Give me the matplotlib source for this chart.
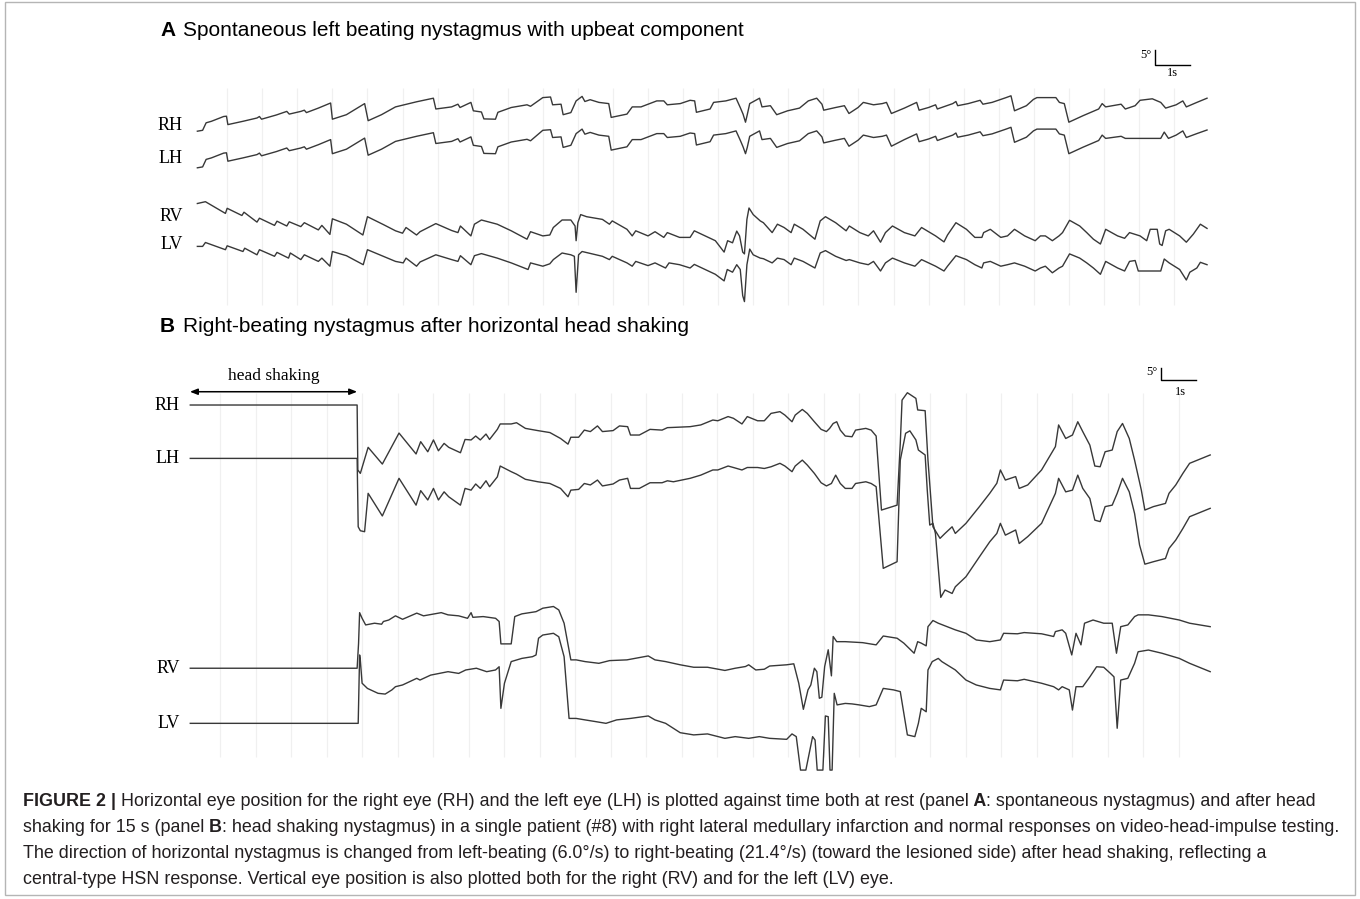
import matplotlib
matplotlib.use('Agg')
import matplotlib.pyplot as plt
from matplotlib import font_manager
from matplotlib.patches import Rectangle

# ---- eye position traces: (time in s, position in deg) ----
# panel A, spontaneous nystagmus
rh_a = [(0.15, -1.9), (0.30, -1.6), (0.40, 0.9), (0.55, 1.4), (0.90, 3.0), (0.98, 3.1), (1.02, 0.3),
        (1.45, 1.4), (1.85, 2.5), (1.92, 3.0), (1.98, 2.1), (2.40, 3.5), (2.70, 4.7), (2.77, 3.8),
        (3.10, 4.7), (3.20, 5.1), (3.26, 4.3), (3.60, 5.8), (3.95, 7.5), (4.00, 2.1), (4.40, 3.6),
        (4.92, 7.3), (5.02, 1.6), (5.40, 3.6), (5.80, 6.2), (6.40, 7.9), (6.88, 9.1), (6.95, 5.5),
        (7.40, 6.2), (7.58, 7.1), (7.64, 6.0), (7.95, 7.7), (8.02, 4.9), (8.25, 4.5), (8.32, 2.2),
        (8.65, 2.1), (8.72, 4.4), (9.10, 6.0), (9.55, 6.9), (9.65, 6.4), (10.00, 9.3), (10.22, 9.5),
        (10.28, 6.9), (10.52, 7.1), (10.58, 3.6), (10.80, 4.3), (10.95, 8.2), (11.12, 9.7), (11.20, 8.0),
        (11.35, 8.6), (11.60, 7.7), (11.88, 7.3), (11.95, 2.7), (12.40, 3.8), (12.55, 6.2), (12.80, 6.2),
        (13.25, 8.2), (13.45, 8.2), (13.55, 6.9), (13.92, 7.3), (14.20, 8.4), (14.33, 8.2), (14.38, 4.4),
        (14.77, 5.5), (14.87, 7.7), (15.22, 8.2), (15.51, 9.1), (15.63, 6.0), (15.71, 3.8), (15.78, 1.1),
        (15.83, 3.6), (15.90, 7.3), (16.18, 9.1), (16.25, 6.2), (16.49, 6.6), (16.67, 3.6), (16.98, 4.9),
        (17.32, 5.8), (17.57, 8.2), (17.81, 9.1), (17.96, 7.1), (18.01, 5.1), (18.35, 6.0), (18.60, 6.6),
        (18.73, 4.0), (18.99, 6.0), (19.14, 7.7), (19.43, 6.9), (19.68, 7.3), (19.80, 7.7), (19.94, 4.0),
        (20.31, 5.8), (20.66, 7.7), (20.73, 5.1), (21.00, 6.0), (21.20, 6.9), (21.25, 5.5), (21.69, 7.3),
        (21.78, 8.0), (21.83, 6.6), (22.13, 7.3), (22.47, 8.4), (22.55, 7.1), (22.81, 7.7), (23.21, 9.3),
        (23.35, 9.9), (23.45, 4.9), (23.79, 6.6), (23.99, 8.7), (24.09, 9.3), (24.63, 9.3), (24.73, 7.7),
        (24.87, 7.3), (25.00, 1.1), (25.41, 3.3), (25.85, 5.5), (25.95, 7.3), (26.05, 6.2), (26.49, 7.1),
        (26.61, 5.5), (26.89, 6.6), (27.03, 8.4), (27.38, 8.9), (27.62, 7.7), (27.76, 5.8), (28.06, 6.9),
        (28.25, 8.2), (28.35, 6.2), (28.65, 7.7), (28.94, 9.1)]

lh_a = [(0.15, -3.2), (0.30, -2.9), (0.40, -0.4), (0.55, 0.1), (0.90, 1.7), (0.98, 1.8), (1.02, -1.0),
        (1.45, 0.1), (1.85, 1.2), (1.92, 1.7), (1.98, 0.8), (2.40, 2.2), (2.70, 3.4), (2.77, 2.5),
        (3.10, 3.4), (3.20, 3.8), (3.26, 3.0), (3.60, 4.5), (3.95, 6.2), (4.00, 1.5), (4.40, 3.0),
        (4.92, 6.7), (5.02, 1.0), (5.40, 3.0), (5.80, 5.6), (6.40, 7.3), (6.88, 8.5), (6.95, 4.9),
        (7.40, 5.6), (7.58, 6.5), (7.64, 5.4), (7.95, 7.1), (8.02, 4.3), (8.25, 3.9), (8.32, 1.6),
        (8.65, 1.5), (8.72, 3.8), (9.10, 5.4), (9.55, 6.3), (9.65, 5.8), (10.00, 9.3), (10.22, 9.5),
        (10.28, 6.9), (10.52, 7.1), (10.58, 3.6), (10.80, 4.3), (10.95, 8.2), (11.12, 9.7), (11.20, 8.0),
        (11.35, 8.6), (11.60, 7.7), (11.88, 7.3), (11.95, 2.7), (12.40, 3.8), (12.55, 6.2), (12.80, 6.2),
        (13.25, 8.2), (13.45, 8.2), (13.55, 6.9), (13.92, 7.3), (14.20, 8.4), (14.33, 8.2), (14.38, 4.4),
        (14.77, 5.5), (14.87, 7.7), (15.22, 8.2), (15.51, 9.1), (15.63, 6.0), (15.71, 3.8), (15.78, 1.5),
        (15.83, 3.6), (15.90, 7.3), (16.18, 9.1), (16.25, 6.2), (16.49, 6.6), (16.67, 3.6), (16.98, 4.9),
        (17.32, 5.8), (17.57, 8.2), (17.81, 9.1), (17.96, 7.1), (18.01, 5.1), (18.35, 6.0), (18.60, 6.6),
        (18.73, 4.0), (18.99, 6.0), (19.14, 7.7), (19.43, 6.9), (19.68, 7.3), (19.80, 7.7), (19.94, 4.0),
        (20.31, 6.2), (20.66, 8.1), (20.73, 5.5), (21.00, 6.4), (21.20, 7.3), (21.25, 5.9), (21.69, 7.7),
        (21.78, 8.4), (21.83, 7.0), (22.13, 7.7), (22.47, 8.8), (22.55, 7.5), (22.81, 8.1), (23.21, 9.7),
        (23.35, 10.3), (23.45, 5.3), (23.79, 7.0), (23.99, 9.1), (24.09, 9.7), (24.63, 9.7), (24.73, 8.1),
        (24.87, 7.7), (25.00, 1.5), (25.41, 3.7), (25.85, 5.9), (25.95, 7.7), (26.05, 6.6), (26.49, 7.3),
        (26.61, 6.6), (27.62, 6.6), (27.72, 8.7), (27.84, 6.6), (28.06, 7.7), (28.25, 9.1), (28.35, 6.9),
        (28.65, 8.2), (28.94, 9.4)]

rv_a = [(0.15, 4.2), (0.38, 4.8), (0.95, 0.9), (1.00, 2.6), (1.42, 0.2), (1.48, 1.3), (1.85, -2.0),
        (1.92, -0.7), (2.35, -3.1), (2.42, -1.7), (2.70, -3.3), (2.77, -1.9), (3.10, -3.5), (3.20, -2.2),
        (3.60, -4.6), (3.70, -3.1), (3.93, -6.1), (4.00, -0.9), (4.40, -2.7), (4.87, -6.3), (5.00, -0.2),
        (5.45, -2.8), (5.80, -4.9), (6.00, -5.7), (6.10, -3.8), (6.40, -6.3), (6.50, -5.2), (6.95, -2.5),
        (7.40, -4.8), (7.58, -5.5), (7.65, -3.3), (7.95, -6.6), (8.05, -2.7), (8.25, -1.3), (8.70, -2.7),
        (9.10, -4.9), (9.55, -7.7), (9.65, -5.2), (10.00, -6.6), (10.20, -6.3), (10.30, -3.8),
        (10.55, -1.3), (10.80, -1.3), (10.92, -3.3), (10.95, -8.2), (11.00, -2.2), (11.08, 0.5),
        (11.25, -0.2), (11.70, -1.1), (11.90, -2.7), (11.98, -1.6), (12.40, -4.4), (12.55, -6.6),
        (12.65, -4.9), (13.00, -6.6), (13.20, -5.2), (13.45, -7.1), (13.55, -5.5), (13.90, -7.1),
        (14.20, -7.1), (14.32, -4.9), (14.92, -8.2), (15.17, -12.0), (15.27, -8.2), (15.41, -8.9),
        (15.53, -5.0), (15.61, -6.6), (15.70, -12.0), (15.75, -12.6), (15.82, -1.1), (15.88, 2.7),
        (16.00, 0.5), (16.20, -1.6), (16.29, -2.2), (16.54, -5.5), (16.69, -2.7), (16.88, -3.8),
        (17.08, -5.5), (17.17, -2.7), (17.42, -4.4), (17.76, -7.7), (17.91, -1.6), (18.06, -0.2),
        (18.35, -2.2), (18.65, -4.9), (18.74, -3.3), (19.04, -5.5), (19.28, -6.6), (19.43, -4.9),
        (19.63, -8.7), (19.77, -5.5), (19.97, -3.3), (20.31, -5.5), (20.61, -6.6), (20.80, -3.8),
        (21.20, -6.6), (21.44, -8.6), (21.54, -6.3), (21.78, -2.2), (22.08, -4.4), (22.32, -7.1),
        (22.52, -7.1), (22.57, -5.5), (22.76, -4.4), (23.06, -7.1), (23.25, -6.6), (23.45, -4.4),
        (23.74, -6.6), (24.04, -8.2), (24.19, -6.6), (24.33, -6.6), (24.53, -8.2), (24.72, -6.6),
        (24.82, -5.5), (25.02, -1.4), (25.31, -3.3), (25.51, -5.5), (25.70, -7.7), (25.90, -9.3),
        (26.05, -4.4), (26.39, -6.6), (26.59, -7.4), (26.73, -5.5), (27.03, -6.6), (27.22, -8.2),
        (27.32, -4.4), (27.52, -4.4), (27.59, -9.3), (27.66, -9.8), (27.76, -4.9), (27.86, -4.4),
        (28.16, -6.6), (28.35, -8.7), (28.55, -6.0), (28.75, -2.7), (28.94, -4.1)]

lv_a = [(0.15, -0.5), (0.30, -0.5), (0.38, 0.8), (0.95, -1.6), (1.00, -0.3), (1.45, -2.2), (1.50, -1.1),
        (1.85, -3.3), (1.92, -1.6), (2.35, -3.8), (2.42, -2.5), (2.75, -4.4), (2.80, -2.7), (3.10, -4.9),
        (3.20, -3.3), (3.60, -5.5), (3.70, -4.4), (3.93, -7.1), (4.00, -2.2), (4.40, -3.6), (4.88, -6.6),
        (5.00, -1.6), (5.45, -3.8), (5.80, -5.5), (6.02, -6.0), (6.10, -4.4), (6.40, -7.1), (6.50, -5.7),
        (6.95, -3.3), (7.40, -4.9), (7.58, -5.5), (7.65, -3.6), (7.95, -6.6), (8.05, -3.6), (8.25, -2.9),
        (8.70, -4.4), (9.10, -6.0), (9.58, -8.2), (9.65, -6.0), (10.00, -7.1), (10.20, -6.3),
        (10.30, -4.9), (10.55, -2.7), (10.80, -3.3), (10.90, -3.8), (10.95, -15.8), (11.02, -3.3),
        (11.12, -2.2), (11.30, -2.7), (11.70, -3.8), (11.90, -4.9), (11.98, -3.8), (12.40, -6.0),
        (12.55, -7.1), (12.65, -5.5), (13.00, -6.9), (13.20, -6.0), (13.50, -7.7), (13.60, -6.0),
        (13.90, -6.6), (14.20, -7.7), (14.32, -6.5), (14.92, -9.8), (15.17, -12.0), (15.26, -8.2),
        (15.41, -9.1), (15.53, -6.6), (15.63, -8.2), (15.70, -16.9), (15.75, -18.9), (15.82, -6.6),
        (15.90, -1.4), (16.00, -3.3), (16.20, -4.4), (16.29, -4.6), (16.54, -6.0), (16.69, -4.4),
        (16.88, -4.9), (17.08, -6.6), (17.17, -4.4), (17.42, -5.5), (17.76, -7.7), (17.91, -2.7),
        (18.06, -1.9), (18.35, -3.8), (18.65, -5.2), (18.74, -4.9), (19.04, -6.0), (19.28, -6.6),
        (19.43, -5.5), (19.63, -8.7), (19.77, -6.0), (19.97, -4.4), (20.31, -6.0), (20.61, -7.1),
        (20.80, -4.9), (21.20, -7.1), (21.44, -8.7), (21.54, -7.1), (21.78, -3.6), (22.08, -4.9),
        (22.32, -6.6), (22.52, -7.7), (22.57, -6.0), (22.76, -5.5), (23.06, -7.1), (23.25, -6.6),
        (23.45, -6.0), (23.74, -7.1), (24.04, -8.7), (24.19, -7.7), (24.33, -7.1), (24.53, -9.3),
        (24.72, -7.7), (24.82, -7.1), (25.02, -3.0), (25.31, -4.4), (25.51, -6.0), (25.70, -7.7),
        (25.90, -9.8), (26.05, -5.5), (26.39, -7.7), (26.59, -8.7), (26.73, -5.5), (26.89, -5.2),
        (26.98, -8.7), (27.62, -8.7), (27.72, -4.7), (27.86, -6.0), (28.16, -8.2), (28.35, -11.7),
        (28.45, -9.1), (28.65, -7.7), (28.75, -5.8), (28.94, -6.6)]

# panel B, after horizontal head shaking
rh_b = [(0.16, 0.0), (4.86, 0.0), (4.88, -26.4), (4.95, -27.8), (5.17, -17.2), (5.57, -24.0), (6.04, -11.4),
        (6.52, -19.9), (6.65, -14.9), (6.85, -19.0), (7.01, -14.2), (7.15, -18.6), (7.31, -15.6),
        (7.44, -17.2), (7.77, -19.4), (7.90, -14.0), (8.07, -14.2), (8.20, -12.6), (8.33, -14.2),
        (8.49, -11.8), (8.59, -14.0), (8.81, -9.9), (8.89, -7.7), (9.20, -7.7), (9.35, -7.2), (9.60, -9.5),
        (9.95, -10.4), (10.29, -11.2), (10.59, -13.6), (10.80, -15.9), (10.88, -13.1), (11.10, -13.1),
        (11.26, -10.2), (11.43, -10.8), (11.63, -8.5), (11.77, -10.8), (12.07, -10.4), (12.25, -8.5),
        (12.48, -8.8), (12.56, -12.2), (12.81, -12.2), (13.11, -9.9), (13.45, -10.2), (13.60, -9.2),
        (13.77, -9.1), (14.24, -8.8), (14.54, -8.1), (14.88, -6.1), (15.02, -6.4), (15.31, -4.7),
        (15.46, -5.4), (15.70, -7.7), (15.85, -4.7), (16.14, -6.4), (16.33, -6.4), (16.52, -3.4),
        (16.77, -2.7), (16.91, -4.1), (17.11, -6.8), (17.20, -4.1), (17.40, -1.8), (17.54, -3.4),
        (17.74, -6.8), (17.93, -9.9), (18.08, -10.8), (18.17, -9.5), (18.27, -7.5), (18.37, -6.8),
        (18.47, -10.2), (18.61, -12.6), (18.80, -12.9), (18.90, -10.2), (19.19, -9.5), (19.34, -10.2),
        (19.48, -12.6), (19.63, -42.7), (20.07, -40.7), (20.16, -15.6), (20.21, 2.0), (20.36, 5.0),
        (20.60, 2.7), (20.65, -2.0), (20.86, -2.3), (20.94, -22.4), (21.08, -49.5), (21.28, -54.2),
        (21.42, -52.2), (21.62, -49.5), (21.71, -52.2), (22.01, -48.1), (22.39, -41.3), (22.68, -35.9),
        (22.88, -31.8), (22.98, -26.4), (23.12, -30.5), (23.41, -29.1), (23.51, -33.9), (23.75, -32.5),
        (24.14, -26.4), (24.53, -16.9), (24.62, -8.1), (24.82, -13.6), (25.01, -12.2), (25.16, -6.8),
        (25.30, -10.8), (25.50, -16.3), (25.64, -24.8), (25.79, -25.1), (25.93, -19.0), (26.13, -18.3),
        (26.27, -10.8), (26.42, -7.5), (26.61, -13.6), (26.76, -22.4), (26.95, -34.6), (27.05, -42.7),
        (27.29, -41.3), (27.63, -40.0), (27.73, -35.9), (27.92, -32.5), (28.12, -27.8), (28.31, -23.7),
        (28.89, -20.3)]

lh_b = [(0.16, 0.0), (4.86, 0.0), (4.89, -27.8), (4.95, -29.4), (5.07, -29.8), (5.17, -14.2), (5.57, -23.4),
        (6.04, -8.1), (6.52, -19.0), (6.65, -13.1), (6.85, -16.9), (7.01, -12.2), (7.15, -16.9),
        (7.31, -13.6), (7.44, -15.6), (7.77, -19.0), (7.90, -12.2), (8.07, -12.9), (8.20, -10.4),
        (8.33, -12.2), (8.49, -9.1), (8.59, -11.5), (8.81, -7.5), (8.89, -3.1), (9.20, -5.4), (9.35, -6.4),
        (9.60, -8.5), (9.95, -9.5), (10.29, -10.2), (10.59, -12.2), (10.80, -15.6), (10.88, -12.9),
        (11.10, -12.6), (11.26, -10.2), (11.43, -10.8), (11.63, -8.8), (11.77, -11.2), (12.07, -10.4),
        (12.25, -8.8), (12.48, -8.1), (12.56, -12.2), (12.81, -12.2), (13.11, -9.9), (13.45, -9.9),
        (13.60, -9.1), (13.77, -9.5), (14.24, -8.1), (14.54, -6.8), (14.88, -4.7), (15.02, -4.7),
        (15.31, -3.1), (15.46, -3.7), (15.70, -4.7), (15.85, -3.7), (16.14, -3.7), (16.33, -4.1),
        (16.52, -3.4), (16.77, -2.0), (16.91, -3.1), (17.11, -5.4), (17.20, -3.1), (17.40, -0.7),
        (17.54, -2.7), (17.74, -6.1), (17.93, -9.9), (18.08, -11.2), (18.22, -10.2), (18.34, -6.8),
        (18.47, -10.2), (18.61, -12.2), (18.80, -12.2), (18.90, -10.2), (19.19, -9.5), (19.34, -10.2),
        (19.48, -11.5), (19.68, -44.7), (20.07, -42.0), (20.16, -0.7), (20.31, 10.2), (20.43, 11.2),
        (20.60, 7.5), (20.67, 3.4), (20.86, 1.4), (20.92, -12.9), (20.99, -27.1), (21.08, -26.4),
        (21.15, -30.5), (21.30, -56.5), (21.42, -53.5), (21.62, -54.9), (21.71, -52.2), (22.01, -48.1),
        (22.39, -40.0), (22.68, -33.9), (22.88, -30.5), (22.98, -26.4), (23.12, -31.2), (23.41, -29.1),
        (23.51, -34.6), (23.75, -31.8), (24.14, -26.4), (24.53, -14.2), (24.62, -8.1), (24.82, -13.6),
        (25.01, -12.9), (25.16, -6.8), (25.30, -12.2), (25.50, -16.3), (25.64, -25.1), (25.79, -25.7),
        (25.93, -19.6), (26.13, -19.0), (26.27, -14.2), (26.42, -8.1), (26.61, -13.6), (26.76, -22.4),
        (26.90, -35.2), (27.05, -43.0), (27.29, -42.0), (27.63, -40.7), (27.73, -36.6), (27.92, -33.2),
        (28.12, -28.5), (28.31, -23.7), (28.89, -20.3)]

rv_b = [(0.16, 0.0), (4.86, 0.0), (4.90, 10.0), (4.93, 22.6), (5.00, 20.3), (5.10, 17.6), (5.35, 18.3),
        (5.55, 17.9), (5.60, 19.0), (5.75, 19.6), (5.94, 21.3), (6.14, 19.9), (6.54, 22.4), (6.73, 21.3),
        (7.23, 22.6), (7.42, 21.7), (7.72, 21.3), (7.97, 20.3), (8.07, 22.6), (8.12, 20.7), (8.41, 21.0),
        (8.76, 20.3), (8.86, 19.0), (8.91, 9.9), (9.20, 9.9), (9.30, 21.0), (9.50, 22.1), (9.90, 23.0),
        (10.09, 24.4), (10.39, 25.1), (10.54, 23.7), (10.69, 18.3), (10.88, 3.4), (11.03, 3.4),
        (11.28, 2.7), (11.67, 2.0), (11.97, 3.1), (12.46, 3.4), (13.06, 5.0), (13.25, 3.4), (13.55, 2.7),
        (13.96, 1.4), (14.34, 0.4), (14.73, 0.4), (15.22, -0.9), (15.51, 0.0), (15.80, 0.7), (15.89, 1.4),
        (16.09, -0.7), (16.33, -0.4), (16.48, 0.9), (16.96, 1.4), (17.16, 1.8), (17.30, -6.1),
        (17.43, -16.7), (17.56, -8.8), (17.64, -6.8), (17.74, 0.0), (17.81, -1.4), (17.88, -12.2),
        (17.95, -11.8), (18.03, 0.7), (18.13, 7.5), (18.22, -3.1), (18.27, 12.9), (18.37, 10.8),
        (18.61, 10.8), (19.10, 10.4), (19.48, 9.5), (19.68, 13.1), (20.07, 12.2), (20.26, 10.2),
        (20.55, 6.1), (20.65, 10.8), (20.75, 10.2), (20.89, 9.1), (20.94, 16.9), (21.08, 19.4),
        (21.23, 18.3), (21.71, 15.6), (22.01, 14.2), (22.30, 11.5), (22.68, 10.8), (22.98, 11.5),
        (23.07, 14.2), (23.46, 14.0), (23.65, 14.5), (24.14, 14.0), (24.48, 12.9), (24.53, 14.9),
        (24.72, 15.6), (24.82, 14.2), (24.99, 5.4), (25.11, 14.2), (25.25, 9.5), (25.35, 18.3),
        (25.59, 19.6), (25.89, 18.3), (26.13, 18.3), (26.25, 6.1), (26.37, 16.9), (26.57, 17.6),
        (26.76, 21.0), (26.86, 21.7), (27.15, 21.7), (27.53, 21.0), (28.02, 19.6), (28.31, 18.3),
        (28.89, 16.9)]

lv_b = [(0.16, 0.0), (4.86, 0.0), (4.89, 0.0), (4.93, 27.8), (4.95, 25.7), (5.00, 16.3), (5.15, 14.2),
        (5.45, 12.2), (5.65, 11.9), (5.84, 13.6), (5.94, 14.9), (6.14, 15.6), (6.54, 18.3), (6.63, 17.6),
        (6.93, 19.6), (7.42, 21.0), (7.72, 20.3), (7.92, 21.7), (8.22, 22.4), (8.51, 21.0), (8.76, 21.7),
        (8.86, 23.0), (8.91, 6.1), (9.01, 16.3), (9.20, 25.1), (9.50, 26.4), (9.80, 27.1), (9.90, 27.8),
        (9.97, 34.6), (10.09, 35.9), (10.39, 36.6), (10.54, 35.2), (10.69, 27.1), (10.83, 2.0),
        (11.03, 2.0), (11.28, 1.4), (11.58, 0.7), (11.87, 0.0), (12.17, 1.4), (12.56, 2.0), (13.06, 3.0),
        (13.25, 1.4), (13.55, 0.0), (13.96, -3.8), (14.34, -4.7), (14.73, -4.3), (15.22, -6.1),
        (15.51, -5.4), (15.89, -6.1), (16.19, -5.4), (16.48, -6.1), (16.96, -6.5), (17.11, -4.3),
        (17.23, -5.4), (17.35, -19.0), (17.50, -19.0), (17.69, -5.4), (17.76, -6.8), (17.82, -19.0),
        (17.98, -19.0), (18.05, 3.0), (18.13, 2.7), (18.18, -19.0), (18.24, -19.0), (18.30, 12.2),
        (18.38, 7.5), (18.61, 8.1), (18.80, 7.9), (19.00, 7.5), (19.29, 6.8), (19.48, 7.5), (19.68, 14.2),
        (19.97, 13.6), (20.16, 12.9), (20.36, -4.7), (20.57, -5.4), (20.67, 0.0), (20.75, 6.1),
        (20.89, 4.7), (20.94, 21.7), (21.06, 25.1), (21.23, 26.4), (21.33, 25.1), (21.71, 21.7),
        (22.01, 17.6), (22.30, 15.6), (22.68, 14.2), (22.98, 13.6), (23.07, 17.6), (23.46, 17.3),
        (23.65, 17.9), (24.14, 16.3), (24.48, 14.9), (24.62, 13.6), (24.72, 14.9), (24.92, 13.6),
        (25.01, 5.4), (25.11, 14.9), (25.30, 14.9), (25.50, 18.9), (25.69, 23.0), (25.89, 22.8),
        (26.08, 20.3), (26.18, 18.9), (26.27, -2.0), (26.37, 17.6), (26.57, 18.3), (26.76, 24.4),
        (26.86, 29.1), (27.15, 29.8), (27.53, 28.5), (28.02, 26.4), (28.31, 24.4), (28.89, 21.0)]

labels = ['RH', 'LH', 'RV', 'LV']
head_shaking = (0.15, 4.86)   # s
grid_seconds = list(range(1, 29))

title_a = 'Spontaneous left beating nystagmus with upbeat component'
title_b = 'Right-beating nystagmus after horizontal head shaking'
caption = [
    [('FIGURE 2 |', True), (' Horizontal eye position for the right eye (RH) and the left eye (LH) is plotted '
                            'against time both at rest (panel', False), (' A', True),
     (': spontaneous nystagmus) and after head', False)],
    [('shaking for 15 s (panel', False), (' B', True),
     (': head shaking nystagmus) in a single patient (#8) with right lateral medullary infarction and '
      'normal responses on video-head-impulse testing.', False)],
    [('The direction of horizontal nystagmus is changed from left-beating (6.0°/s) to right-beating '
      '(21.4°/s) (toward the lesioned side) after head shaking, reflecting a', False)],
    [('central-type HSN response. Vertical eye position is also plotted both for the right (RV) and '
      'for the left (LV) eye.', False)],
]

# ---- layout ----
W, H = 1360, 899
TRACE = '#383838'
GRID = '#f0f0f0'
SERIF = 'Liberation Serif'
SANS = 'Liberation Sans'
installed = {f.name for f in font_manager.fontManager.ttflist}
NARROW = 'Liberation Sans Narrow' if 'Liberation Sans Narrow' in installed else SANS

fig = plt.figure(figsize=(W / 100, H / 100), dpi=100)


def px_box(x0, y0, x1, y1):
    return [x0 / W, 1 - y1 / H, (x1 - x0) / W, (y1 - y0) / H]


def panel(x0, px_s, y0, y1, px_deg):
    ax = fig.add_axes(px_box(x0, y0, x0 + 29.5 * px_s, y1))
    ax.set_xlim(0, 29.5)
    ax.set_ylim(0, (y1 - y0) / px_deg)
    ax.axis('off')
    return ax


# panel A: 1 s = 35.07 px, 5 deg = 15 px
ax_a = panel(192.1, 35.07, 40, 310, 3.0)
offs_a = [61.5, 50.6, 31.3, 21.7]
ax_a.vlines(grid_seconds, 1.7, 74, color=GRID, lw=0.9, zorder=0)
for name, tr, off in zip(labels, [rh_a, lh_a, rv_a, lv_a], offs_a):
    t, v = zip(*tr)
    ax_a.plot(t, [off + d for d in v], color=TRACE, lw=1.0)
    ax_a.text(-0.26, off, name, ha='right', va='center', family=SERIF, fontsize=13)
ax_a.plot([27.46, 27.46, 28.46], [86.7, 81.7, 81.7], color='black', lw=1.0)
ax_a.text(27.36, 85.0, '5°', ha='right', va='center', family=SERIF, fontsize=9)
ax_a.text(27.96, 79.0, '1s', ha='center', va='center', family=SERIF, fontsize=9)

# panel B: 1 s = 35.5 px, 5 deg = 12.3 px
ax_b = panel(184.6, 35.5, 355, 775, 2.46)
offs_b = [150.4, 128.7, 43.4, 21.0]
ax_b.vlines(grid_seconds, 7.3, 155.3, color=GRID, lw=0.9, zorder=0)
for name, tr, off in zip(labels, [rh_b, lh_b, rv_b, lv_b], offs_b):
    t, v = zip(*tr)
    ax_b.plot(t, [off + d for d in v], color=TRACE, lw=1.0)
    ax_b.text(-0.13, off, name, ha='right', va='center', family=SERIF, fontsize=13)
ax_b.plot([27.5, 27.5, 28.5], [165.6, 160.6, 160.6], color='black', lw=1.0)
ax_b.text(27.4, 163.8, '5°', ha='right', va='center', family=SERIF, fontsize=9)
ax_b.text(28.05, 155.7, '1s', ha='center', va='center', family=SERIF, fontsize=9)
ax_b.annotate('', xy=(head_shaking[0], 155.8), xytext=(head_shaking[1], 155.8),
              arrowprops=dict(arrowstyle='<|-|>,head_length=0.45,head_width=0.18',
                              color='black', lw=1.1, shrinkA=0, shrinkB=0))
ax_b.text(sum(head_shaking) / 2, 162.0, 'head shaking', ha='center', va='center',
          family=SERIF, fontsize=12.5)

# ---- titles, caption, frame in pixel coordinates ----
ov = fig.add_axes([0, 0, 1, 1])
ov.set_xlim(0, W)
ov.set_ylim(H, 0)
ov.axis('off')
ov.add_patch(Rectangle((5, 2), W - 10, H - 6, fill=False, edgecolor='#b5b5b5', lw=1.0))

renderer = fig.canvas.get_renderer()


def fitted_size(s, target, family, weight='normal', base=12):
    t = ov.text(0, 0, s, fontsize=base, family=family, fontweight=weight)
    w = t.get_window_extent(renderer).width
    t.remove()
    return base * target / w


def run(x, y, parts, size, color):
    for s, bold in parts:
        t = ov.text(x, y, s, fontsize=size, family=SANS, color=color,
                    fontweight='bold' if bold else 'normal', va='center', ha='left')
        x += t.get_window_extent(renderer).width
    return x


ts = fitted_size(title_a, 745 - 183, NARROW)
ov.text(160, 30, 'A', fontsize=min(ts, 15), family=SANS, fontweight='bold', va='center')
ov.text(183, 30, title_a, fontsize=ts, family=NARROW, va='center')
ov.text(160, 326, 'B', fontsize=min(ts, 15), family=SANS, fontweight='bold', va='center')
ov.text(183, 326, title_b, fontsize=ts, family=NARROW, va='center')

# caption size from the width of its first line
probe = [ov.text(0, 0, s, fontsize=12, family=SANS, fontweight='bold' if b else 'normal')
         for s, b in caption[0]]
w1 = sum(p.get_window_extent(renderer).width for p in probe)
for p in probe:
    p.remove()
cs = 12 * (1318 - 23) / w1
for i, parts in enumerate(caption):
    run(23, 802 + 25.7 * i, parts, cs, '#231f20')

fig.savefig('out.png', dpi=100)
